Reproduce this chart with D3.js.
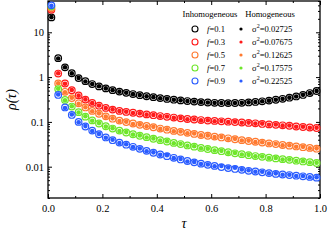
<!DOCTYPE html>
<html>
<head>
<meta charset="utf-8">
<script src="https://cdn.jsdelivr.net/npm/d3@7"></script>
<style>
  body { margin: 0; background: #fff; }
  svg { display: block; }
</style>
</head>
<body>
<div id="chart"></div>
<script>
// tau sampling points
const tau = [0.0125, 0.0375, 0.0625, 0.0875, 0.1125, 0.1375, 0.1625, 0.1875, 0.2125, 0.2375,
  0.2625, 0.2875, 0.3125, 0.3375, 0.3625, 0.3875, 0.4125, 0.4375, 0.4625, 0.4875,
  0.5125, 0.5375, 0.5625, 0.5875, 0.6125, 0.6375, 0.6625, 0.6875, 0.7125, 0.7375,
  0.7625, 0.7875, 0.8125, 0.8375, 0.8625, 0.8875, 0.9125, 0.9375, 0.9625, 0.9875]

// inhomogeneous (open circles)
const inhF01 = [21.5, 2.64, 1.65, 1.22, 0.95, 0.81, 0.70, 0.62, 0.56, 0.51, 0.475, 0.445, 0.418, 0.395, 0.374, 0.356, 0.34, 0.326, 0.313, 0.302,
  0.292, 0.284, 0.277, 0.271, 0.267, 0.264, 0.263, 0.264, 0.267, 0.272, 0.279, 0.288, 0.299, 0.312, 0.328, 0.347, 0.37, 0.40, 0.44, 0.49]
const inhF03 = [32, 1.2, 0.72, 0.51, 0.39, 0.315, 0.265, 0.23, 0.205, 0.188, 0.176, 0.167, 0.16, 0.153, 0.147, 0.141, 0.135, 0.13, 0.125, 0.12,
  0.116, 0.113, 0.11, 0.107, 0.105, 0.103, 0.101, 0.099, 0.097, 0.095, 0.093, 0.09, 0.088, 0.086, 0.084, 0.082, 0.079, 0.077, 0.075, 0.073]
const inhF05 = [35, 0.72, 0.47, 0.34, 0.26, 0.21, 0.176, 0.152, 0.133, 0.118, 0.107, 0.099, 0.092, 0.086, 0.081, 0.076, 0.071, 0.067, 0.063, 0.06,
  0.057, 0.054, 0.051, 0.049, 0.047, 0.045, 0.043, 0.041, 0.039, 0.0375, 0.036, 0.0345, 0.033, 0.032, 0.0305, 0.0295, 0.0283, 0.0272, 0.0262, 0.0252]
const inhF07 = [38, 0.54, 0.31, 0.22, 0.165, 0.131, 0.108, 0.092, 0.08, 0.071, 0.064, 0.058, 0.053, 0.049, 0.0455, 0.042, 0.039, 0.0365, 0.034, 0.032,
  0.0298, 0.028, 0.0263, 0.0248, 0.0234, 0.0222, 0.021, 0.0199, 0.019, 0.0181, 0.0173, 0.0166, 0.0159, 0.0153, 0.0147, 0.0142, 0.0136, 0.0131, 0.0126, 0.0121]
const inhF09 = [40, 0.40, 0.21, 0.143, 0.10, 0.079, 0.064, 0.053, 0.045, 0.039, 0.0345, 0.031, 0.0278, 0.025, 0.0226, 0.0205, 0.0187, 0.0172, 0.0158, 0.0145,
  0.0134, 0.0125, 0.0117, 0.011, 0.0104, 0.0098, 0.0093, 0.0089, 0.0085, 0.0081, 0.0078, 0.0075, 0.0072, 0.0069, 0.0067, 0.0065, 0.0063, 0.0061, 0.0059, 0.0057]

// homogeneous (filled dots)
const homS1 = [21.8, 2.6, 1.66, 1.21, 0.96, 0.80, 0.70, 0.625, 0.56, 0.512, 0.473, 0.447, 0.416, 0.396, 0.372, 0.357, 0.338, 0.327, 0.312, 0.303,
  0.291, 0.285, 0.276, 0.272, 0.266, 0.265, 0.262, 0.265, 0.266, 0.273, 0.278, 0.289, 0.298, 0.313, 0.327, 0.348, 0.369, 0.402, 0.438, 0.492]
const homS2 = [31, 1.22, 0.71, 0.515, 0.385, 0.318, 0.262, 0.233, 0.203, 0.19, 0.174, 0.169, 0.158, 0.155, 0.145, 0.143, 0.133, 0.132, 0.123, 0.122,
  0.114, 0.115, 0.108, 0.109, 0.103, 0.105, 0.0995, 0.1005, 0.0955, 0.0965, 0.0915, 0.0915, 0.0865, 0.0875, 0.0825, 0.083, 0.0778, 0.0782, 0.0738, 0.0742]
const homS3 = [34, 0.73, 0.46, 0.345, 0.255, 0.213, 0.173, 0.155, 0.131, 0.12, 0.105, 0.101, 0.09, 0.088, 0.0795, 0.0775, 0.0698, 0.0685, 0.0618, 0.0612,
  0.0558, 0.0552, 0.05, 0.05, 0.046, 0.046, 0.0422, 0.0418, 0.0383, 0.0382, 0.0353, 0.0352, 0.0324, 0.0326, 0.0299, 0.03, 0.0278, 0.0277, 0.0257, 0.0257]
const homS4 = [37, 0.55, 0.305, 0.224, 0.162, 0.134, 0.106, 0.094, 0.0785, 0.0725, 0.0628, 0.0592, 0.052, 0.05, 0.0447, 0.0428, 0.0383, 0.0372, 0.0334, 0.0326,
  0.0293, 0.0286, 0.0258, 0.0253, 0.023, 0.0226, 0.0206, 0.0203, 0.0187, 0.0184, 0.017, 0.0169, 0.0156, 0.0156, 0.0144, 0.0145, 0.0134, 0.0133, 0.0124, 0.0123]
const homS5 = [39, 0.41, 0.205, 0.146, 0.098, 0.0805, 0.0628, 0.054, 0.0442, 0.0398, 0.0339, 0.0316, 0.0273, 0.0255, 0.0222, 0.0209, 0.0184, 0.0181, 0.0155, 0.0148,
  0.0131, 0.0128, 0.0115, 0.0112, 0.0102, 0.0104, 0.0096, 0.0095, 0.0087, 0.0083, 0.0077, 0.0077, 0.0071, 0.0071, 0.0066, 0.0066, 0.0062, 0.0062, 0.0058, 0.0058]

const fLabels = ["0.1", "0.3", "0.5", "0.7", "0.9"]
const sigmaLabels = ["0.02725", "0.07675", "0.12625", "0.17575", "0.22525"]
const colors = ["#000000", "#ff1a1a", "#ff7a30", "#6ee62a", "#2a5cff"]

const xTicks = [0, 0.2, 0.4, 0.6, 0.8, 1.0]
const xTickLabels = ["0.0", "0.2", "0.4", "0.6", "0.8", "1.0"]
const xMinor = [0.1, 0.3, 0.5, 0.7, 0.9]
const yTicks = [0.01, 0.1, 1, 10]
const yTickLabels = ["0.01", "0.1", "1", "10"]

const inhom = [inhF01, inhF03, inhF05, inhF07, inhF09]
const hom = [homS1, homS2, homS3, homS4, homS5]

const width = 328
const height = 240
const margin = { top: 1, right: 8, bottom: 42, left: 48 }
const serif = "'Liberation Serif', 'DejaVu Serif', serif"

const svg = d3.select("#chart")
  .append("svg")
  .attr("width", width)
  .attr("height", height)
  .style("font-family", serif)

const x = d3.scaleLinear()
  .domain([0, 1])
  .range([margin.left, width - margin.right])

const y = d3.scaleLog()
  .domain([0.002, 50])
  .range([height - margin.bottom, margin.top])

const yMinor = y.ticks().filter(d => !yTicks.some(t => Math.abs(t - d) / t < 1e-6))

const styleAxis = g => {
  g.attr("font-family", serif).attr("font-size", 10.5)
  g.select(".domain").remove()
  g.selectAll("line").attr("stroke", "#000").attr("stroke-width", 1)
  g.selectAll("text").attr("fill", "#000")
}

// bottom axis
svg.append("g")
  .attr("transform", `translate(0,${height - margin.bottom})`)
  .call(d3.axisBottom(x).tickValues(xTicks).tickFormat((d, i) => xTickLabels[i]).tickSize(-4).tickPadding(7))
  .call(styleAxis)
svg.append("g")
  .attr("transform", `translate(0,${height - margin.bottom})`)
  .call(d3.axisBottom(x).tickValues(xMinor).tickFormat("").tickSize(-2))
  .call(styleAxis)

// top axis
svg.append("g")
  .attr("transform", `translate(0,${margin.top})`)
  .call(d3.axisTop(x).tickValues(xTicks).tickFormat("").tickSize(-4))
  .call(styleAxis)
svg.append("g")
  .attr("transform", `translate(0,${margin.top})`)
  .call(d3.axisTop(x).tickValues(xMinor).tickFormat("").tickSize(-2))
  .call(styleAxis)

// left axis
svg.append("g")
  .attr("transform", `translate(${margin.left},0)`)
  .call(d3.axisLeft(y).tickValues(yTicks).tickFormat((d, i) => yTickLabels[i]).tickSize(-4).tickPadding(4))
  .call(styleAxis)
svg.append("g")
  .attr("transform", `translate(${margin.left},0)`)
  .call(d3.axisLeft(y).tickValues(yMinor).tickFormat("").tickSize(-2))
  .call(styleAxis)

// right axis
svg.append("g")
  .attr("transform", `translate(${width - margin.right},0)`)
  .call(d3.axisRight(y).tickValues(yTicks).tickFormat("").tickSize(-4))
  .call(styleAxis)
svg.append("g")
  .attr("transform", `translate(${width - margin.right},0)`)
  .call(d3.axisRight(y).tickValues(yMinor).tickFormat("").tickSize(-2))
  .call(styleAxis)

// frame
svg.append("rect")
  .attr("x", margin.left)
  .attr("y", margin.top)
  .attr("width", width - margin.left - margin.right)
  .attr("height", height - margin.top - margin.bottom)
  .attr("fill", "none")
  .attr("stroke", "#000")
  .attr("stroke-width", 1.3)

// data
inhom.forEach((series, s) => {
  svg.append("g")
    .selectAll("circle")
    .data(series)
    .enter()
    .append("circle")
    .attr("cx", (d, i) => x(tau[i]))
    .attr("cy", d => y(d))
    .attr("r", 3.3)
    .attr("fill", "#fff")
    .attr("stroke", colors[s])
    .attr("stroke-width", 1.2)

  svg.append("g")
    .selectAll("circle")
    .data(hom[s])
    .enter()
    .append("circle")
    .attr("cx", (d, i) => x(tau[i]))
    .attr("cy", d => y(d))
    .attr("r", 2.3)
    .attr("fill", colors[s])
})

// legend
const legend = svg.append("g").style("font-size", "8.6px")
legend.append("text").attr("x", 210).attr("y", 17).attr("text-anchor", "middle").text("Inhomogeneous")
legend.append("text").attr("x", 270).attr("y", 17).attr("text-anchor", "middle").text("Homogeneous")

fLabels.forEach((f, i) => {
  const cy = 29 + i * 13
  legend.append("circle")
    .attr("cx", 195).attr("cy", cy).attr("r", 3)
    .attr("fill", "#fff").attr("stroke", colors[i]).attr("stroke-width", 1.1)
  const t1 = legend.append("text").attr("x", 207).attr("y", cy + 3)
  t1.append("tspan").style("font-style", "italic").text("f")
  t1.append("tspan").text("=" + f)

  legend.append("circle")
    .attr("cx", 241).attr("cy", cy).attr("r", 1.6)
    .attr("fill", colors[i])
  const t2 = legend.append("text").attr("x", 252).attr("y", cy + 3)
  t2.append("tspan").text("σ")
  t2.append("tspan").attr("dy", -4).style("font-size", "6px").text("2")
  t2.append("tspan").attr("dy", 4).text("=" + sigmaLabels[i])
})

// axis titles
svg.append("text")
  .attr("transform", `translate(16,${(margin.top + height - margin.bottom) / 2}) rotate(-90)`)
  .attr("text-anchor", "middle")
  .style("font-size", "14px")
  .style("font-style", "italic")
  .text("ρ(τ)")

svg.append("text")
  .attr("x", (margin.left + width - margin.right) / 2)
  .attr("y", 228)
  .attr("text-anchor", "middle")
  .style("font-size", "14px")
  .style("font-style", "italic")
  .text("τ")
</script>
</body>
</html>
